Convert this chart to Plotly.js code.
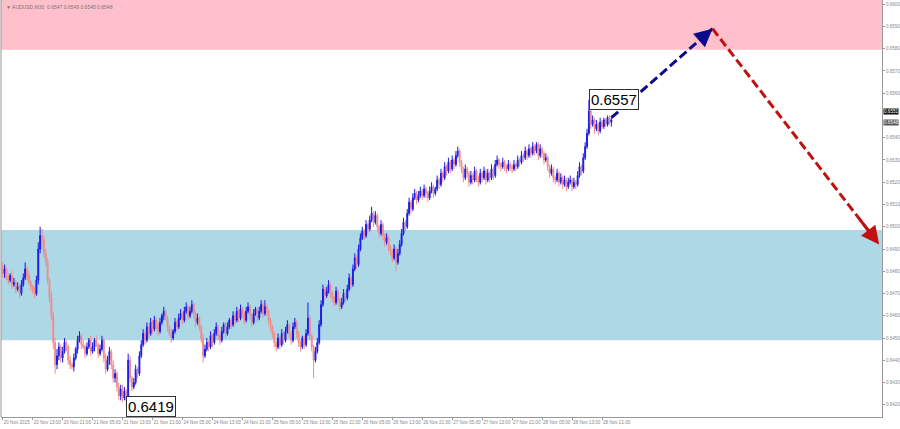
<!DOCTYPE html>
<html>
<head>
<meta charset="utf-8">
<script src="https://cdn.plot.ly/plotly-3.0.1.min.js"></script>
<style>html,body{margin:0;padding:0;background:#fff;}#chart{width:900px;height:429px;}</style>
</head>
<body>
<div id="chart"></div>
<script>
// AUDUSD M30 bars, prices in 1/10000 (pips)
const openP = [
6482,6479,6481,6477,6476,6478,6474,6475,6472,6473,6470,6474,6477,6481,6478,6475,
6473,6472,6470,6476,6490,6496,6494,6488,6484,6476,6468,6460,6448,6438,6442,6446,
6441,6444,6448,6446,6440,6438,6437,6441,6445,6449,6451,6447,6446,6443,6446,6449,
6444,6446,6449,6447,6443,6445,6449,6441,6436,6440,6444,6438,6432,6434,6428,6424,
6427,6423,6426,6422,6440,6432,6428,6430,6436,6434,6442,6447,6452,6449,6455,6452,
6457,6454,6458,6456,6453,6457,6460,6462,6459,6455,6452,6450,6453,6457,6455,6459,
6461,6458,6462,6464,6460,6462,6465,6461,6457,6459,6455,6450,6442,6445,6448,6446,
6451,6448,6452,6455,6451,6449,6453,6456,6452,6455,6458,6456,6460,6458,6462,6459,
6463,6461,6458,6462,6464,6460,6457,6461,6463,6459,6462,6465,6461,6464,6462,6458,
6455,6452,6448,6446,6450,6447,6452,6449,6453,6456,6452,6449,6455,6457,6452,6448,
6446,6450,6447,6452,6459,6451,6446,6440,6444,6448,6456,6465,6472,6469,6471,6474,
6470,6468,6466,6471,6467,6464,6466,6470,6468,6472,6477,6474,6481,6486,6483,6490,
6495,6498,6496,6501,6499,6503,6506,6502,6505,6500,6497,6501,6496,6493,6495,6491,
6489,6486,6490,6484,6488,6492,6497,6502,6500,6506,6511,6508,6513,6515,6512,6514,
6516,6514,6517,6515,6513,6516,6518,6515,6517,6521,6519,6524,6522,6527,6525,6529,
6526,6530,6528,6532,6534,6529,6526,6522,6526,6524,6520,6523,6521,6525,6522,6520,
6524,6522,6525,6521,6524,6522,6526,6523,6528,6530,6528,6527,6529,6527,6526,6528,
6527,6526,6528,6527,6530,6529,6532,6531,6534,6532,6535,6533,6536,6534,6537,6532,
6535,6533,6530,6531,6527,6524,6526,6522,6521,6524,6520,6522,6519,6521,6518,6520,
6521,6518,6520,6519,6523,6527,6525,6531,6536,6542,6552,6546,6548,6544,6546,6543,
6547,6545,6548,6546,6549,6547];
const highP = [
6484,6483,6482,6479,6479,6480,6477,6476,6475,6474,6476,6479,6484,6482,6480,6476,
6474,6473,6478,6493,6500,6499,6496,6490,6486,6477,6471,6462,6450,6445,6448,6447,
6446,6450,6449,6447,6442,6439,6443,6446,6451,6453,6452,6449,6447,6448,6450,6451,
6448,6450,6451,6448,6447,6451,6450,6443,6442,6446,6445,6440,6436,6435,6430,6429,
6429,6428,6427,6443,6442,6433,6432,6438,6437,6444,6449,6454,6453,6457,6456,6459,
6458,6460,6459,6457,6459,6461,6464,6463,6460,6456,6454,6454,6459,6458,6461,6463,
6462,6464,6466,6465,6464,6467,6466,6462,6461,6460,6456,6452,6447,6450,6449,6453,
6452,6454,6457,6456,6452,6455,6457,6457,6457,6459,6459,6462,6461,6464,6463,6465,
6464,6462,6464,6466,6465,6461,6463,6464,6464,6464,6467,6466,6467,6465,6463,6459,
6456,6453,6449,6452,6451,6454,6453,6455,6458,6457,6453,6457,6459,6458,6453,6449,
6451,6451,6454,6466,6460,6452,6447,6446,6450,6458,6467,6474,6473,6473,6476,6475,
6471,6469,6473,6472,6468,6468,6472,6471,6474,6479,6478,6483,6488,6487,6492,6497,
6500,6499,6503,6502,6505,6509,6507,6507,6506,6501,6503,6502,6497,6497,6496,6492,
6490,6492,6491,6490,6494,6499,6504,6503,6508,6513,6512,6515,6517,6516,6516,6518,
6517,6519,6518,6516,6518,6520,6519,6518,6523,6522,6526,6525,6529,6528,6531,6530,
6532,6531,6534,6536,6535,6530,6527,6528,6527,6525,6525,6524,6527,6526,6523,6526,
6525,6527,6526,6526,6525,6528,6527,6530,6532,6531,6529,6531,6530,6528,6530,6529,
6528,6530,6529,6532,6531,6534,6533,6536,6535,6537,6536,6538,6537,6538,6538,6537,
6536,6534,6533,6532,6528,6528,6527,6523,6526,6525,6524,6523,6523,6522,6522,6523,
6522,6522,6521,6525,6529,6528,6533,6538,6544,6557,6553,6550,6549,6548,6547,6549,
6548,6549,6549,6550,6550,6549];
const lowP = [
6477,6477,6476,6474,6475,6472,6473,6470,6471,6468,6469,6473,6476,6476,6474,6471,
6470,6468,6469,6474,6488,6491,6486,6482,6474,6466,6458,6445,6434,6436,6440,6439,
6439,6443,6444,6438,6436,6436,6435,6440,6443,6448,6445,6445,6441,6442,6445,6442,
6443,6444,6446,6441,6442,6444,6439,6434,6435,6438,6436,6430,6430,6426,6422,6422,
6421,6422,6419,6421,6430,6426,6427,6429,6432,6433,6441,6446,6447,6448,6450,6451,
6452,6453,6454,6451,6452,6456,6458,6458,6453,6451,6448,6449,6452,6453,6454,6458,
6456,6457,6461,6458,6459,6461,6459,6455,6456,6453,6448,6439,6441,6444,6444,6445,
6446,6447,6451,6449,6447,6448,6452,6450,6451,6454,6454,6455,6456,6457,6457,6458,
6459,6456,6457,6461,6458,6455,6456,6460,6457,6458,6461,6459,6460,6460,6456,6453,
6450,6446,6444,6445,6445,6446,6447,6448,6452,6450,6447,6448,6454,6450,6446,6444,
6445,6445,6446,6451,6449,6444,6432,6439,6443,6447,6455,6464,6467,6468,6470,6468,
6466,6464,6465,6465,6462,6463,6465,6466,6467,6471,6472,6473,6480,6481,6482,6489,
6494,6494,6495,6497,6498,6502,6500,6501,6498,6495,6496,6494,6491,6492,6489,6487,
6484,6485,6480,6483,6487,6491,6496,6498,6499,6505,6506,6507,6512,6510,6511,6513,
6512,6513,6513,6511,6512,6515,6513,6514,6516,6517,6518,6520,6521,6523,6524,6524,
6525,6526,6527,6531,6527,6524,6520,6521,6522,6518,6519,6519,6520,6520,6518,6519,
6520,6521,6519,6520,6520,6521,6521,6522,6527,6526,6525,6526,6525,6524,6525,6525,
6524,6525,6525,6526,6527,6528,6529,6530,6530,6531,6531,6532,6532,6533,6530,6531,
6531,6528,6529,6525,6522,6523,6520,6519,6520,6518,6519,6517,6518,6516,6517,6519,
6516,6517,6517,6518,6522,6523,6524,6530,6535,6541,6544,6545,6542,6543,6541,6542,
6544,6544,6545,6545,6546,6545];
const closeP = [
6479,6481,6477,6476,6478,6474,6475,6472,6473,6470,6474,6477,6481,6478,6475,6473,
6472,6470,6476,6490,6496,6494,6488,6484,6476,6468,6460,6448,6438,6442,6446,6441,
6444,6448,6446,6440,6438,6437,6441,6445,6449,6451,6447,6446,6443,6446,6449,6444,
6446,6449,6447,6443,6445,6449,6441,6436,6440,6444,6438,6432,6434,6428,6424,6427,
6423,6426,6422,6440,6432,6428,6430,6436,6434,6442,6447,6452,6449,6455,6452,6457,
6454,6458,6456,6453,6457,6460,6462,6459,6455,6452,6450,6453,6457,6455,6459,6461,
6458,6462,6464,6460,6462,6465,6461,6457,6459,6455,6450,6442,6445,6448,6446,6451,
6448,6452,6455,6451,6449,6453,6456,6452,6455,6458,6456,6460,6458,6462,6459,6463,
6461,6458,6462,6464,6460,6457,6461,6463,6459,6462,6465,6461,6464,6462,6458,6455,
6452,6448,6446,6450,6447,6452,6449,6453,6456,6452,6449,6455,6457,6452,6448,6446,
6450,6447,6452,6459,6451,6446,6440,6444,6448,6456,6465,6472,6469,6471,6474,6470,
6468,6466,6471,6467,6464,6466,6470,6468,6472,6477,6474,6481,6486,6483,6490,6495,
6498,6496,6501,6499,6503,6506,6502,6505,6500,6497,6501,6496,6493,6495,6491,6489,
6486,6490,6484,6488,6492,6497,6502,6500,6506,6511,6508,6513,6515,6512,6514,6516,
6514,6517,6515,6513,6516,6518,6515,6517,6521,6519,6524,6522,6527,6525,6529,6526,
6530,6528,6532,6534,6529,6526,6522,6526,6524,6520,6523,6521,6525,6522,6520,6524,
6522,6525,6521,6524,6522,6526,6523,6528,6530,6528,6527,6529,6527,6526,6528,6527,
6526,6528,6527,6530,6529,6532,6531,6534,6532,6535,6533,6536,6534,6537,6532,6535,
6533,6530,6531,6527,6524,6526,6522,6521,6524,6520,6522,6519,6521,6518,6520,6521,
6518,6520,6519,6523,6527,6525,6531,6536,6542,6552,6546,6548,6544,6546,6543,6547,
6545,6548,6546,6549,6547,6548];

const timeTickIdx = [0,16,32,48,64,80,96,112,128,144,160,176,192,208,224,240,256,272,288,304,320];
const timeTickText = ["20 Nov 2025","20 Nov 13:00","20 Nov 21:00","21 Nov 05:00","21 Nov 13:00","21 Nov 21:00",
  "24 Nov 05:00","24 Nov 13:00","24 Nov 21:00","25 Nov 05:00","25 Nov 13:00","25 Nov 21:00",
  "26 Nov 05:00","26 Nov 13:00","26 Nov 21:00","27 Nov 05:00","27 Nov 13:00","27 Nov 21:00",
  "28 Nov 05:00","28 Nov 13:00","28 Nov 21:00"];
const priceTicks = [0.6420,0.6430,0.6440,0.6450,0.6460,0.6470,0.6480,0.6490,0.6500,0.6510,
  0.6520,0.6530,0.6540,0.6560,0.6570,0.6580,0.6590,0.6600];

// zones and forecast path
const sellZone = [0.65795, 0.6610];
const buyZone = [0.6449, 0.64985];
const forecastX = [325, 379, 468];
const forecastY = [0.6549, 0.6589, 0.6492];
const markHigh = {idx: 313, price: 0.6557, label: "0.6557"};
const markLow = {idx: 66, price: 0.6419, label: "0.6419"};
const bidAsk = [0.6551, 0.6548];
const header = "AUDUSD,M30  0.6547 0.6549 0.6545 0.6548";

const toPrice = a => a.map(v => v / 10000);
const idx = openP.map((_, i) => i);

const candles = {
  type: 'candlestick', x: idx,
  open: toPrice(openP), high: toPrice(highP), low: toPrice(lowP), close: toPrice(closeP),
  increasing: {line: {color: '#1a1ae6', width: 1}, fillcolor: '#1a1ae6'},
  decreasing: {line: {color: '#f08c8c', width: 1}, fillcolor: '#f08c8c'},
  whiskerwidth: 0, hoverinfo: 'skip', showlegend: false
};
const upLeg = {
  type: 'scatter', mode: 'lines', x: forecastX.slice(0, 2), y: forecastY.slice(0, 2),
  line: {color: '#0a0a8c', width: 3, dash: '9px,4px'}, hoverinfo: 'skip', showlegend: false
};
const downLeg = {
  type: 'scatter', mode: 'lines', x: forecastX.slice(1, 3), y: forecastY.slice(1, 3),
  line: {color: '#c01010', width: 3, dash: '9px,4px'}, hoverinfo: 'skip', showlegend: false
};

function head(i, color) {
  const x0 = forecastX[i - 1], y0 = forecastY[i - 1], x1 = forecastX[i], y1 = forecastY[i];
  return {x: x1, y: y1, ax: x1 - (x1 - x0) * 0.12, ay: y1 - (y1 - y0) * 0.12,
    xref: 'x', yref: 'y', axref: 'x', ayref: 'y', showarrow: true, arrowhead: 2,
    arrowsize: 1.2, arrowwidth: 3, arrowcolor: color, text: ''};
}

const tickFont = {family: 'Liberation Sans, Arial, sans-serif', size: 4.6, color: '#888'};
const layout = {
  width: 900, height: 429,
  margin: {l: 1, r: 18, t: 0, b: 12},
  paper_bgcolor: '#ffffff', plot_bgcolor: '#ffffff',
  showlegend: false,
  xaxis: {
    range: [-0.9, 469.5], showgrid: false, zeroline: false,
    tickmode: 'array', tickvals: timeTickIdx, ticktext: timeTickText, tickangle: 0,
    ticks: 'outside', ticklen: 2, tickcolor: '#999', tickfont: tickFont,
    ticklabelposition: 'outside right',
    showline: true, linecolor: '#999', linewidth: 1,
    rangeslider: {visible: false}, fixedrange: true, automargin: false
  },
  yaxis: {
    range: [0.64145, 0.66019], side: 'right', showgrid: false, zeroline: false,
    tickmode: 'array', tickvals: priceTicks, tickformat: '.4f',
    ticks: 'outside', ticklen: 2, tickcolor: '#999', tickfont: tickFont,
    showline: true, linecolor: '#999', linewidth: 1, fixedrange: true, automargin: false
  },
  shapes: [
    {type: 'rect', xref: 'paper', yref: 'y', x0: 0, x1: 1, y0: sellZone[0], y1: sellZone[1],
     fillcolor: '#ffc0cb', line: {width: 0}, layer: 'below'},
    {type: 'rect', xref: 'paper', yref: 'y', x0: 0, x1: 1, y0: buyZone[0], y1: buyZone[1],
     fillcolor: '#add8e6', line: {width: 0}, layer: 'below'},
    {type: 'line', xref: 'paper', yref: 'paper', x0: 0, x1: 0, y0: 0, y1: 1,
     line: {color: '#999', width: 1}}
  ],
  annotations: [
    head(1, '#0a0a8c'), head(2, '#c01010'),
    {x: markHigh.idx, y: markHigh.price, xref: 'x', yref: 'y', xanchor: 'left', yanchor: 'middle',
     text: markHigh.label, showarrow: false, bgcolor: '#ffffff', bordercolor: '#333', borderwidth: 1,
     borderpad: 1, font: {family: 'Liberation Sans, Arial, sans-serif', size: 15, color: '#000'}},
    {x: markLow.idx, y: markLow.price, xref: 'x', yref: 'y', xanchor: 'left', yanchor: 'middle',
     text: markLow.label, showarrow: false, bgcolor: '#ffffff', bordercolor: '#333', borderwidth: 1,
     borderpad: 1, font: {family: 'Liberation Sans, Arial, sans-serif', size: 15, color: '#000'}},
    {x: 1, y: bidAsk[0], xref: 'paper', yref: 'y', xanchor: 'left', yanchor: 'bottom', xshift: 1, yshift: -2,
     text: bidAsk[0].toFixed(4), showarrow: false, bgcolor: '#111', borderpad: 0,
     font: {family: 'Liberation Sans, Arial, sans-serif', size: 4.6, color: '#fff'}},
    {x: 1, y: bidAsk[1], xref: 'paper', yref: 'y', xanchor: 'left', yanchor: 'top', xshift: 1, yshift: 1,
     text: bidAsk[1].toFixed(4), showarrow: false, bgcolor: '#555', borderpad: 0,
     font: {family: 'Liberation Sans, Arial, sans-serif', size: 4.6, color: '#fff'}},
    {x: 0.003, y: 0.995, xref: 'paper', yref: 'paper', xanchor: 'left', yanchor: 'top',
     text: '▼ ' + header, showarrow: false,
     font: {family: 'Liberation Sans, Arial, sans-serif', size: 5, color: '#777'}}
  ]
};

Plotly.newPlot('chart', [candles, upLeg, downLeg], layout, {displayModeBar: false, staticPlot: true});
</script>
</body>
</html>
